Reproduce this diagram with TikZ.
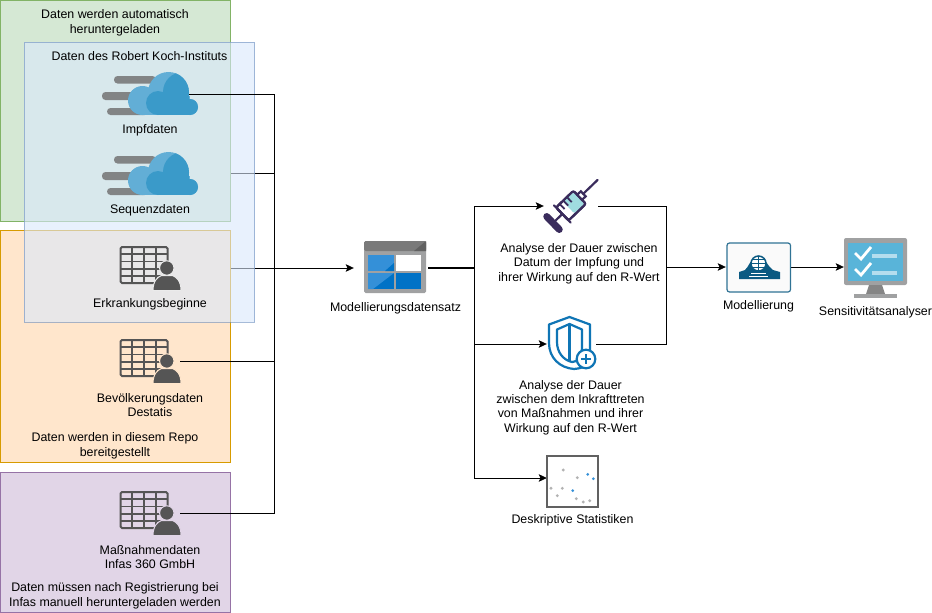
\documentclass[tikz,border=0pt]{standalone}
\usepackage{fontspec}
\setmainfont{Liberation Sans}
\usetikzlibrary{arrows.meta,calc}
\definecolor{gbox}{HTML}{D5E8D4}\definecolor{gline}{HTML}{82B366}
\definecolor{bbox}{HTML}{DAE8FC}\definecolor{bline}{HTML}{6C8EBF}
\definecolor{obox}{HTML}{FFE6CC}\definecolor{oline}{HTML}{D79B00}
\definecolor{pbox}{HTML}{E1D5E7}\definecolor{pline}{HTML}{9673A6}
\definecolor{cloudlt}{HTML}{62AED6}\definecolor{clouddk}{HTML}{3A9AC9}
\definecolor{tblgrey}{HTML}{555555}
\definecolor{syrink}{HTML}{3A2C5C}\definecolor{syrteal}{HTML}{9FDCE0}
\definecolor{shieldc}{HTML}{0F75B5}
\definecolor{modc}{HTML}{0B5A82}
\definecolor{frameg}{HTML}{A0A1A2}\definecolor{screenb}{HTML}{59B4D9}
\definecolor{azlt}{HTML}{3490D8}\definecolor{azdk}{HTML}{0072C6}
\tikzset{
  every node/.style={font=\fontsize{12.4}{14.4}\selectfont, inner sep=0pt},
  txt/.style={align=center},
  group/.style={line width=0.8pt},
  link/.style={line width=0.8pt, black},
  arrowlink/.style={link, -{Stealth[length=8pt,width=7.5pt,inset=1.6pt]}},
  pics/cloudicon/.style={code={
    \fill[black!55,fill opacity=.85,rounded corners=3.5pt] (-14,4) rectangle (28,11.5);
    \fill[black!55,fill opacity=.85,rounded corners=3.5pt] (-26,20) rectangle (20,28);
    \fill[black!55,fill opacity=.85,rounded corners=3.5pt] (-21,36) rectangle (20,43);
    \fill[cloudlt] (14.5,28.5) circle (14.5);
    \fill[cloudlt] (40.5,20.5) circle (20.5);
    \fill[cloudlt] (62,35) circle (8);
    \fill[cloudlt] (14.5,24) rectangle (62,43);
    \begin{scope}
      \clip (40.5,20.5) circle (20.5);
      \fill[clouddk] (55,20) circle (20);
    \end{scope}
    \fill[clouddk] (30,31) circle (12);
    \fill[clouddk] (62,35) circle (8);
    \fill[clouddk] (30,30) rectangle (62,43);
    \fill[clouddk] (36,20) rectangle (60.5,32);
  }},
  pics/tableicon/.style={code={
    \draw[tblgrey,line width=2pt,rounded corners=1.5pt] (0,0) rectangle (47,36);
    \foreach \i in {1,2,3} \draw[tblgrey,line width=1.8pt] ({\i*47/4},0) -- ({\i*47/4},36);
    \foreach \i in {1,2,3,4} \draw[tblgrey,line width=1.8pt] (0,{\i*36/5}) -- (47,{\i*36/5});
    \fill[tblgrey,draw=#1,line width=1pt] (32.5,43.5) .. controls (32.5,34) and (37,30) .. (41,28.5) -- (52,28.5) .. controls (56,30) and (60.5,34) .. (60.5,43.5) -- cycle;
    \fill[tblgrey,draw=#1,line width=1pt] (46.3,21) circle (7.2);
  }}
}
\begin{document}
\begin{tikzpicture}[x=1pt,y=-1pt]
\useasboundingbox (0,0) rectangle (932,613);
\fill[white] (0,0) rectangle (932,613);
% anchors for the icons
\node[minimum width=78pt,minimum height=40pt] (impf) at (150,94) {};
\node[minimum width=78pt,minimum height=40pt] (seq) at (150,173) {};
\node[minimum width=60pt,minimum height=44pt] (erkr) at (150,268) {};
\node[minimum width=60pt,minimum height=44pt] (bev) at (150,361) {};
\node[minimum width=60pt,minimum height=44pt] (mass) at (150,513) {};
\node[minimum width=74pt,minimum height=52pt] (set) at (391,268) {};
\node[minimum width=54pt,minimum height=54pt] (syr) at (571,206) {};
\node[minimum width=49pt,minimum height=52pt] (shield) at (571.5,344) {};
\node[minimum width=51pt,minimum height=51pt] (scat) at (572.5,478) {};
\node[minimum width=65pt,minimum height=49pt] (mod) at (758.5,267) {};
\node[minimum width=63pt,minimum height=60pt] (sens) at (875.5,267) {};
\coordinate (bus) at (274,268);
\coordinate (split) at (474,268);
\coordinate (merge) at (666,267);
% connectors that run beneath the coloured groups
\draw[link] (seq.east) -| (bus);
\draw[arrowlink] (erkr.east) -- (set.west);
% groups
\fill[gbox] (0,0) rectangle (230.5,221);
\draw[gline,group] (0,0) rectangle (230.5,221);
\fill[obox] (0,230) rectangle (230.5,462);
\draw[oline,group] (0,230) rectangle (230.5,462);
\fill[pbox] (0,472) rectangle (230.5,612);
\draw[pline,group] (0,472) rectangle (230.5,612);
\fill[bbox,fill opacity=.6] (24,42) rectangle (254.5,322);
\draw[bline,group,draw opacity=.6] (24,42) rectangle (254.5,322);
% remaining connectors
\draw[link] (impf.east) -| (bus);
\draw[link] (bev.east) -| (bus);
\draw[link] (mass.east) -| (bus);
\draw[link,line width=1.4pt] (set.east) -- (split);
\draw[arrowlink] (split) |- (syr.west);
\draw[arrowlink] (split) |- (shield.west);
\draw[arrowlink] (split) |- (scat.west);
\draw[link] (syr.east) -| (merge);
\draw[link] (shield.east) -| (merge);
\draw[arrowlink] (merge) -- (mod.west);
\draw[arrowlink] (mod.east) -- (sens.west);
% icons
\pic at (128,72) {cloudicon};
\pic at (128,152) {cloudicon};
\pic at (120.5,247) {tableicon={black!8}};
\pic at (120.5,340) {tableicon={obox}};
\pic at (120.5,492) {tableicon={pbox}};
% data set icon
\fill[frameg,rounded corners=1.5pt] (364,241) rectangle (426,293);
\fill[black!52,rounded corners=1.5pt] (364,241) -- (426,241) -- (426,251) -- (364,251) -- cycle;
\fill[black!62] (414,251) -- (426,241) -- (426,251) -- cycle;
\fill[white] (396,255) rectangle (421,271);
\fill[azlt] (368,255) rectangle (394,271);
\fill[azdk] (368,273) rectangle (394,289);
\fill[azdk] (396,273) rectangle (421,289);
\fill[azlt] (368,273) -- (394,273) -- (373,289) -- (368,289) -- cycle;
\fill[azdk] (394,263) -- (394,271) -- (385,271) -- cycle;
% syringe
\begin{scope}[shift={(553,223)},rotate=44]
  \draw[syrink,line width=2.2pt] (3,0) -- (13,0);
  \draw[syrink,line width=7pt,line cap=round] (0,-9) -- (0,9);
  \draw[syrink,line width=2.2pt,fill=white,rounded corners=2pt] (13,-9) rectangle (37,9);
  \fill[syrteal,rounded corners=2pt] (22,-8) rectangle (36,8);
  \draw[syrink,line width=2.2pt,line cap=round] (13,-12) -- (13,12);
  \draw[syrink,line width=2.2pt,rounded corners=2pt] (13,-9) rectangle (37,9);
  \foreach \p in {18,23,28} \draw[syrink,line width=1.8pt] (\p,-9) -- (\p,-2);
  \draw[syrink,line width=2.2pt,fill=white] (37,-3.5) rectangle (42,3.5);
  \draw[syrink,line width=2.2pt,line cap=round] (42,0) -- (62,0);
\end{scope}
% shield
\draw[shieldc,line width=2.2pt,fill=white,line join=round] (569.5,317) -- (549,324.5) -- (549,343) .. controls (549,358) and (560,368) .. (574,369) .. controls (588,368) and (590,362) .. (590,350) -- (590,324.5) -- cycle;
\draw[shieldc,line width=2.2pt,line join=round] (569.5,324) -- (557,329.5) -- (557,342) .. controls (557,352) and (563,360) .. (572,362) .. controls (580,361) and (582,356) .. (582,345) -- (582,329.5) -- cycle;
\draw[shieldc,line width=2.2pt] (569.5,324) -- (569.5,362);
\draw[shieldc,line width=2.2pt,fill=white] (586,359) circle (9.3);
\draw[shieldc,line width=2.2pt] (581,359) -- (591,359) (586,354) -- (586,364);
% scatter plot
\draw[black!62,line width=1.4pt,fill=white] (547,456) rectangle (598,507);
\foreach \p in {(563.3,470),(577.3,477.7),(551,488.3),(562.3,488.3),(557.3,495.7),(576.3,498.7),(583.3,502),(589.7,500.7)}
  \fill[black!30] \p circle (1.6);
\foreach \p in {(587.7,474.3),(593.3,478.7),(572.7,490.7)}
  \fill[azlt] \p circle (1.5);
% modelling icon
\draw[modc!85!white,line width=1.2pt,fill=black!2,rounded corners=2.5pt] (727,243) rectangle (790.5,292);
\fill[modc] (739,272) -- (745,270) .. controls (749,267) and (750,258) .. (758,257) .. controls (766,258) and (768,267) .. (773,270) -- (780,272) -- (780,279) -- (739,279) -- cycle;
\draw[modc,line width=1.5pt,fill=white] (758.5,263.5) circle (7.5);
\draw[modc,line width=.8pt] (751,263.5) -- (766,263.5) (758.5,256) -- (758.5,271) (753,259.5) -- (764,259.5) (753,267.5) -- (764,267.5);
\draw[white,line width=.8pt] (751,273) -- (766,273) (749,276.5) -- (768,276.5);
% monitor icon
\fill[frameg,rounded corners=2pt] (844,238) rectangle (907,285);
\fill[screenb] (848,243) rectangle (903,281);
\fill[black!48] (869,285) -- (882,285) -- (885,294) -- (866,294) -- cycle;
\fill[frameg] (854,294) rectangle (897,298);
\draw[white,line width=2.8pt] (855,253) -- (861,259) -- (871,247);
\draw[white,line width=2.8pt] (855,269) -- (861,275) -- (871,263);
\fill[screenb!45!white] (872,254) rectangle (897,258);
\fill[screenb!45!white] (872,271) rectangle (897,275);
% labels
\node[txt] (t1) at (115,22.5) {Daten werden automatisch\\[0.5pt]heruntergeladen};
\node[txt] (t2) at (139.5,56.5) {Daten des Robert Koch-Instituts};
\node[txt] (t3) at (150,130.5) {Impfdaten};
\node[txt] (t4) at (150,210.5) {Sequenzdaten};
\node[txt] (t5) at (150,304.5) {Erkrankungsbeginne};
\node[txt] (t6) at (150,405) {Bevölkerungsdaten\\Destatis};
\node[txt] (t7) at (115,446) {Daten werden in diesem Repo\\[0.5pt]bereitgestellt};
\node[txt] (t8) at (150,557) {Maßnahmendaten\\Infas 360 GmbH};
\node[txt] (t9) at (115,595.5) {Daten müssen nach Registrierung bei\\[0.5pt]Infas manuell heruntergeladen werden};
\node[txt] (t10) at (395.5,308.5) {Modellierungsdatensatz};
\node[txt] (t11) at (579,263.5) {Analyse der Dauer zwischen\\Datum der Impfung und\\ ihrer Wirkung auf den R-Wert};
\node[txt] (t12) at (570.5,407.5) {Analyse der Dauer\\zwischen dem Inkrafttreten\\von Maßnahmen und ihrer\\Wirkung auf den R-Wert};
\node[txt] (t13) at (572.5,520.5) {Deskriptive Statistiken};
\node[txt] (t14) at (758.5,306.5) {Modellierung};
\node[txt] (t15) at (875.5,312.5) {Sensitivitätsanalyser};
\end{tikzpicture}
\end{document}
